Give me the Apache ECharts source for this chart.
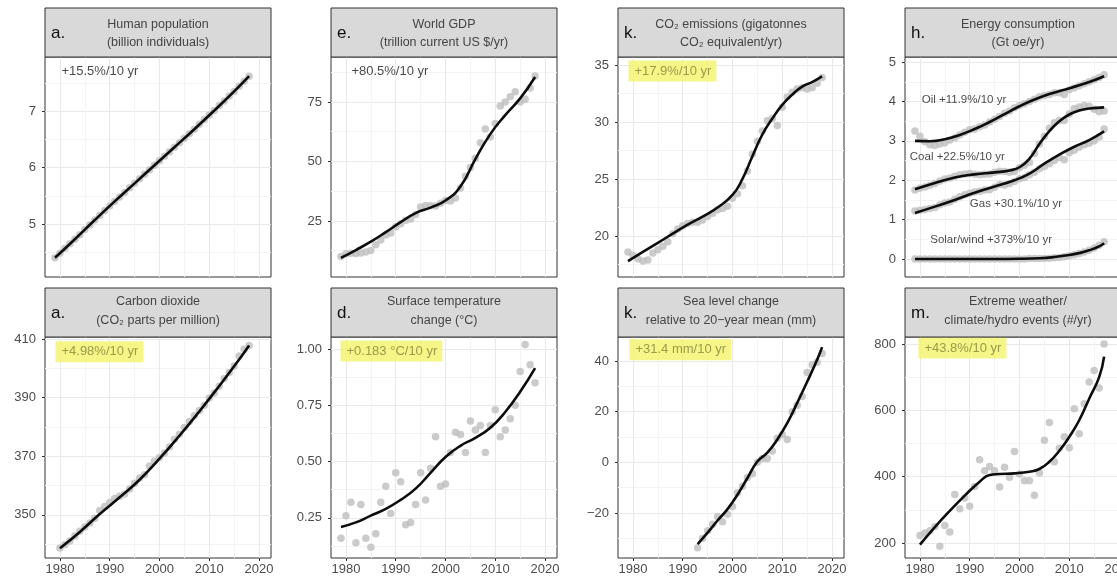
<!DOCTYPE html>
<html>
<head>
<meta charset="utf-8">
<script src="https://cdn.jsdelivr.net/npm/echarts@6/dist/echarts.min.js"></script>
<style>
  html, body { margin: 0; padding: 0; background: #fff; }
  #chart { width: 1117px; height: 580px; }
</style>
</head>
<body>
<div id="chart"></div>
<script>
// ---------- data ----------
const YEARS = [1979, 1980, 1981, 1982, 1983, 1984, 1985, 1986, 1987, 1988,
               1989, 1990, 1991, 1992, 1993, 1994, 1995, 1996, 1997, 1998,
               1999, 2000, 2001, 2002, 2003, 2004, 2005, 2006, 2007, 2008,
               2009, 2010, 2011, 2012, 2013, 2014, 2015, 2016, 2017, 2018];
const YEARS_1980_2018 = YEARS.slice(1);
const YEARS_1979_2017 = YEARS.slice(0, 39);
const YEARS_1980_2017 = YEARS.slice(1, 39);
const YEARS_1993_2018 = YEARS.slice(14);

const X_TICKS = [1980, 1990, 2000, 2010, 2020];
const X_MINOR = [1985, 1995, 2005, 2015];

// a. human population, billion (1979-2018)
const POPULATION = [4.40, 4.48, 4.57, 4.65, 4.73, 4.81, 4.90, 4.98, 5.07, 5.15,
                    5.24, 5.32, 5.40, 5.48, 5.56, 5.64, 5.72, 5.80, 5.88, 5.96,
                    6.04, 6.12, 6.20, 6.28, 6.36, 6.44, 6.52, 6.60, 6.68, 6.77,
                    6.85, 6.93, 7.01, 7.10, 7.18, 7.27, 7.35, 7.44, 7.53, 7.62];
const POPULATION_FIT = [[1979, 4.40], [1983, 4.73], [1987, 5.07], [1991, 5.40], [1995, 5.72],
                        [1999, 6.04], [2003, 6.36], [2007, 6.68], [2011, 7.01], [2015, 7.35],
                        [2018, 7.62]];
const POP_TICKS = [5, 6, 7];
const POP_MINOR = [4.5, 5.5, 6.5, 7.5];

// e. world GDP, trillion US$ (1979-2018)
const GDP = [10.1, 11.2, 11.5, 11.3, 11.6, 12.0, 12.6, 15.0, 17.0, 19.1,
             20.0, 22.6, 23.8, 25.3, 25.8, 27.7, 30.9, 31.5, 31.4, 31.3,
             32.5, 33.6, 33.4, 34.7, 38.9, 43.8, 47.5, 51.4, 57.9, 63.6,
             60.3, 66.0, 73.3, 75.0, 77.2, 79.3, 75.0, 76.1, 80.9, 85.9];
const GDP_FIT = [[1979, 9.5], [1982, 12.8], [1985, 16.3], [1988, 20.3], [1991, 24.5],
                 [1994, 28.3], [1997, 30.6], [2000, 33.6], [2003, 39.5], [2006, 51.0],
                 [2009, 61.5], [2012, 69.5], [2015, 76.5], [2018, 85.5]];
const GDP_TICKS = [25, 50, 75];
const GDP_MINOR = [12.5, 37.5, 62.5, 87.5];

// k. CO2 emissions, Gt CO2-eq (1979-2018)
const EMISSIONS = [18.6, 18.3, 18.0, 17.8, 17.9, 18.5, 18.8, 19.1, 19.5, 20.2,
                   20.6, 20.9, 21.1, 21.2, 21.2, 21.4, 21.7, 22.0, 22.3, 22.4,
                   22.6, 23.3, 23.7, 24.4, 25.7, 27.2, 28.3, 29.2, 30.1, 30.3,
                   29.7, 31.3, 32.2, 32.6, 32.9, 33.0, 32.9, 33.0, 33.4, 33.9];
const EMISSIONS_FIT = [[1979, 17.8], [1982, 18.6], [1985, 19.4], [1988, 20.2], [1991, 21.0],
                       [1994, 21.7], [1997, 22.5], [2000, 23.6], [2002, 25.0], [2004, 27.0],
                       [2006, 28.9], [2008, 30.3], [2010, 31.5], [2012, 32.4], [2014, 33.1],
                       [2016, 33.5], [2018, 34.0]];
const EMISSIONS_TICKS = [20, 25, 30, 35];
const EMISSIONS_MINOR = [17.5, 22.5, 27.5, 32.5];

// h. energy consumption, Gt oe (1979-2017)
const OIL = [3.25, 3.12, 2.98, 2.90, 2.88, 2.92, 2.95, 3.02, 3.08, 3.15,
             3.22, 3.28, 3.30, 3.36, 3.40, 3.48, 3.55, 3.62, 3.70, 3.76,
             3.84, 3.90, 3.94, 4.00, 4.06, 4.12, 4.15, 4.18, 4.22, 4.22,
             4.18, 4.30, 4.35, 4.40, 4.45, 4.50, 4.55, 4.61, 4.68];
const OIL_FIT = [[1979, 3.00], [1982, 2.99], [1985, 3.04], [1988, 3.15], [1991, 3.30],
                 [1994, 3.48], [1997, 3.68], [2000, 3.88], [2003, 4.05], [2006, 4.19],
                 [2009, 4.30], [2012, 4.41], [2015, 4.54], [2017, 4.64]];
const COAL = [1.75, 1.80, 1.83, 1.87, 1.92, 1.98, 2.03, 2.06, 2.10, 2.14,
              2.16, 2.17, 2.15, 2.14, 2.15, 2.16, 2.20, 2.23, 2.22, 2.20,
              2.22, 2.32, 2.38, 2.45, 2.68, 2.92, 3.12, 3.32, 3.46, 3.52,
              3.52, 3.68, 3.82, 3.86, 3.90, 3.88, 3.80, 3.74, 3.76];
const COAL_FIT = [[1979, 1.77], [1983, 1.93], [1987, 2.07], [1991, 2.15], [1995, 2.20],
                  [1998, 2.25], [2000, 2.33], [2002, 2.55], [2004, 2.92], [2006, 3.25],
                  [2008, 3.50], [2010, 3.67], [2012, 3.77], [2014, 3.82], [2017, 3.85]];
const GAS = [1.22, 1.24, 1.26, 1.28, 1.31, 1.38, 1.42, 1.45, 1.52, 1.58,
             1.63, 1.67, 1.70, 1.72, 1.75, 1.76, 1.82, 1.89, 1.88, 1.92,
             1.97, 2.04, 2.07, 2.14, 2.20, 2.29, 2.35, 2.42, 2.50, 2.58,
             2.52, 2.70, 2.76, 2.84, 2.90, 2.94, 3.00, 3.10, 3.30];
const GAS_FIT = [[1979, 1.17], [1983, 1.33], [1987, 1.50], [1991, 1.68], [1995, 1.84],
                 [1999, 2.00], [2002, 2.17], [2005, 2.42], [2008, 2.65], [2011, 2.85],
                 [2014, 3.02], [2017, 3.24]];
const SOLAR_WIND = [0, 0, 0, 0, 0, 0, 0, 0, 0, 0,
                    0, 0, 0, 0, 0, 0, 0, 0, 0, 0,
                    0, 0, 0, 0.01, 0.01, 0.01, 0.01, 0.02, 0.03, 0.04,
                    0.06, 0.08, 0.11, 0.14, 0.18, 0.22, 0.28, 0.35, 0.44];
const SOLAR_WIND_FIT = [[1979, 0], [1985, 0], [1990, 0], [1995, 0], [2000, 0.005],
                        [2004, 0.02], [2007, 0.05], [2010, 0.10], [2012, 0.15],
                        [2014, 0.22], [2016, 0.32], [2017, 0.40]];
const ENERGY_TICKS = [0, 1, 2, 3, 4, 5];
const ENERGY_MINOR = [0.5, 1.5, 2.5, 3.5, 4.5];

// a. atmospheric CO2, ppm (1980-2018)
const CO2_PPM = [338.7, 339.9, 341.1, 342.8, 344.4, 345.9, 347.2, 348.9, 351.5, 352.9,
                 354.2, 355.6, 356.4, 357.1, 358.8, 360.8, 362.6, 363.7, 366.7, 368.4,
                 369.6, 371.1, 373.2, 375.8, 377.5, 379.8, 381.9, 383.8, 385.6, 387.4,
                 389.9, 391.6, 393.9, 396.5, 398.6, 400.8, 404.2, 406.5, 407.8];
const CO2_FIT = [[1980, 338.6], [1984, 344.2], [1988, 350.3], [1992, 356.0], [1996, 362.0],
                 [2000, 369.2], [2004, 377.0], [2008, 385.3], [2012, 394.0], [2016, 403.0],
                 [2018, 407.8]];
const CO2_TICKS = [350, 370, 390, 410];
const CO2_MINOR = [340, 360, 380, 400];

// d. surface temperature change, deg C (1979-2018)
const TEMPERATURE = [0.16, 0.26, 0.32, 0.14, 0.31, 0.16, 0.12, 0.18, 0.32, 0.39,
                     0.27, 0.45, 0.41, 0.22, 0.23, 0.31, 0.45, 0.33, 0.47, 0.61,
                     0.39, 0.40, 0.54, 0.63, 0.62, 0.54, 0.68, 0.64, 0.66, 0.54,
                     0.66, 0.73, 0.61, 0.64, 0.69, 0.75, 0.90, 1.02, 0.93, 0.85];
const TEMPERATURE_FIT = [[1979, 0.21], [1982, 0.23], [1985, 0.26], [1988, 0.29], [1991, 0.33],
                         [1994, 0.38], [1997, 0.45], [2000, 0.52], [2003, 0.57], [2006, 0.605],
                         [2009, 0.65], [2012, 0.72], [2015, 0.81], [2018, 0.915]];
const TEMPERATURE_TICKS = [0.25, 0.5, 0.75, 1.0];
const TEMPERATURE_MINOR = [0.125, 0.375, 0.625, 0.875];

// k. sea level change, mm (1993-2018)
const SEA_LEVEL = [-33.8, -30.0, -27.0, -24.5, -21.5, -23.5, -20.5, -17.5, -12.0, -9.5,
                   -6.0, -4.5, 0.0, 1.5, 1.5, 4.5, 9.5, 11.0, 9.0, 20.0,
                   22.5, 26.0, 35.5, 38.5, 39.5, 43.0];
const SEA_LEVEL_FIT = [[1993, -32.3], [1995, -27.8], [1997, -23.0], [1999, -18.5], [2001, -12.8],
                       [2003, -6.2], [2005, 0.3], [2007, 3.8], [2009, 9.0], [2011, 15.5],
                       [2013, 23.5], [2015, 31.8], [2017, 40.5], [2018, 45.5]];
const SEA_LEVEL_TICKS = [-20, 0, 20, 40];
const SEA_LEVEL_MINOR = [-30, -10, 10, 30];

// m. extreme weather / climate / hydro events per year (1980-2017)
const EXTREME_EVENTS = [223, 230, 237, 250, 190, 253, 233, 346, 303, 336,
                        311, 370, 451, 418, 431, 418, 369, 428, 398, 476,
                        408, 388, 388, 344, 411, 510, 563, 445, 486, 520,
                        487, 605, 529, 620, 685, 720, 667, 800];
const EXTREME_FIT = [[1980, 195], [1983, 248], [1986, 297], [1989, 343], [1992, 385],
                     [1994, 405], [1996, 408], [1999, 410], [2002, 415], [2004, 423],
                     [2006, 445], [2008, 478], [2010, 520], [2012, 570], [2014, 635],
                     [2016, 700], [2017, 762]];
const EXTREME_TICKS = [200, 400, 600, 800];
const EXTREME_MINOR = [300, 500, 700];

// ---------- layout & style ----------
const FONT = '"Liberation Sans", Arial, Helvetica, sans-serif';
const COL_LEFT = [45, 331, 618, 905];
const PANEL_W = 226;
const ROWS = [
  { strip: 8,   top: 57,  height: 220, line1: 24.5, line2: 43,  letterY: 33 },
  { strip: 288, top: 337, height: 221, line1: 302,  line2: 321, letterY: 313 }
];
const STRIP_H = 49;
const X_MIN = 1977, X_MAX = 2022.4;
const MAJOR_GRID = '#e9e9e9';
const MINOR_GRID = '#f4f4f4';
const POINT = '#bebebe';
const FIT = '#0d0d0d';
const HIGHLIGHT = '#f3f36a';
const HIGHLIGHT_TEXT = '#85853a';
const AXIS_TEXT = '#4d4d4d';

function pairs(xs, ys) { return ys.map((v, i) => [xs[i], v]); }

const panels = [
  { col: 0, row: 0, letter: 'a.', title: ['Human population', '(billion individuals)'],
    y: [4.06, 7.96], ticks: POP_TICKS, minor: POP_MINOR,
    layers: [{ points: pairs(YEARS, POPULATION), fit: POPULATION_FIT }],
    notes: [{ x: 1980.2, y: 7.71, text: '+15.5%/10 yr' }] },
  { col: 1, row: 0, letter: 'e.', title: ['World GDP', '(trillion current US $/yr)'],
    y: [1.47, 93.9], ticks: GDP_TICKS, minor: GDP_MINOR,
    layers: [{ points: pairs(YEARS, GDP), fit: GDP_FIT }],
    notes: [{ x: 1981.0, y: 88.0, text: '+80.5%/10 yr' }] },
  { col: 2, row: 0, letter: 'k.', title: ['CO\u2082 emissions (gigatonnes', 'CO\u2082 equivalent/yr)'],
    y: [16.4, 35.7], ticks: EMISSIONS_TICKS, minor: EMISSIONS_MINOR,
    layers: [{ points: pairs(YEARS, EMISSIONS), fit: EMISSIONS_FIT }],
    notes: [{ x: 1979.0, y: 34.47, text: '+17.9%/10 yr', mark: true }] },
  { col: 3, row: 0, letter: 'h.', title: ['Energy consumption', '(Gt oe/yr)'],
    y: [-0.457, 5.13], ticks: ENERGY_TICKS, minor: ENERGY_MINOR,
    layers: [
      { points: pairs(YEARS_1979_2017, OIL), fit: OIL_FIT },
      { points: pairs(YEARS_1979_2017, COAL), fit: COAL_FIT },
      { points: pairs(YEARS_1979_2017, GAS), fit: GAS_FIT },
      { points: pairs(YEARS_1979_2017, SOLAR_WIND), fit: SOLAR_WIND_FIT }
    ],
    notes: [
      { x: 1988.85, y: 4.04, text: 'Oil +11.9%/10 yr', center: true, size: 11.5 },
      { x: 1987.5, y: 2.60, text: 'Coal +22.5%/10 yr', center: true, size: 11.5 },
      { x: 1999.3, y: 1.41, text: 'Gas +30.1%/10 yr', center: true, size: 11.5 },
      { x: 1994.3, y: 0.48, text: 'Solar/wind +373%/10 yr', center: true, size: 11.5 }
    ] },
  { col: 0, row: 1, letter: 'a.', title: ['Carbon dioxide', '(CO\u2082 parts per million)'],
    y: [335.3, 410.7], ticks: CO2_TICKS, minor: CO2_MINOR,
    layers: [{ points: pairs(YEARS_1980_2018, CO2_PPM), fit: CO2_FIT }],
    notes: [{ x: 1979.0, y: 405.7, text: '+4.98%/10 yr', mark: true }] },
  { col: 1, row: 1, letter: 'd.', title: ['Surface temperature', 'change (\u00B0C)'],
    y: [0.072, 1.053], ticks: TEMPERATURE_TICKS, minor: TEMPERATURE_MINOR,
    format: v => v.toFixed(2),
    layers: [{ points: pairs(YEARS, TEMPERATURE), fit: TEMPERATURE_FIT }],
    notes: [{ x: 1978.8, y: 0.991, text: '+0.183 \u00B0C/10 yr', mark: true }] },
  { col: 2, row: 1, letter: 'k.', title: ['Sea level change', 'relative to 20\u2212year mean (mm)'],
    y: [-37.8, 49.5], ticks: SEA_LEVEL_TICKS, minor: SEA_LEVEL_MINOR,
    format: v => (v < 0 ? '\u2212' + Math.abs(v) : String(v)),
    layers: [{ points: pairs(YEARS_1993_2018, SEA_LEVEL), fit: SEA_LEVEL_FIT }],
    notes: [{ x: 1979.2, y: 44.5, text: '+31.4 mm/10 yr', mark: true }] },
  { col: 3, row: 1, letter: 'm.', title: ['Extreme weather/', 'climate/hydro events (#/yr)'],
    y: [154.8, 821], ticks: EXTREME_TICKS, minor: EXTREME_MINOR,
    layers: [{ points: pairs(YEARS_1980_2017, EXTREME_EVENTS), fit: EXTREME_FIT }],
    notes: [{ x: 1979.6, y: 788, text: '+43.8%/10 yr', mark: true }] }
];

// ---------- build option ----------
const grid = [], xAxis = [], yAxis = [], series = [], graphic = [];

panels.forEach((p, i) => {
  const left = COL_LEFT[p.col];
  const row = ROWS[p.row];
  const bottomRow = p.row === 1;
  const xi = 2 * i + 1;

  grid.push({
    left: left, top: row.top, width: PANEL_W, height: row.height,
    show: true, backgroundColor: '#fff', borderColor: '#333', borderWidth: 1,
    containLabel: false, outerBoundsMode: 'none'
  });

  // minor grid lines
  xAxis.push({
    type: 'value', gridIndex: i, position: 'top', min: X_MIN, max: X_MAX,
    axisLine: { show: false, onZero: false }, axisLabel: { show: false },
    axisTick: { show: false, customValues: X_MINOR },
    splitLine: { show: true, lineStyle: { color: MINOR_GRID, width: 1 } }
  });
  yAxis.push({
    type: 'value', gridIndex: i, position: 'right', min: p.y[0], max: p.y[1],
    axisLine: { show: false, onZero: false }, axisLabel: { show: false },
    axisTick: { show: false, customValues: p.minor },
    splitLine: { show: true, lineStyle: { color: MINOR_GRID, width: 1 } }
  });

  // major axes
  xAxis.push({
    type: 'value', gridIndex: i, position: 'bottom', min: X_MIN, max: X_MAX,
    axisLine: { show: false, onZero: false },
    axisTick: { show: bottomRow, length: 3, customValues: X_TICKS, lineStyle: { color: '#333' } },
    axisLabel: { show: bottomRow, customValues: X_TICKS, margin: 5, fontFamily: FONT,
                 fontSize: 13, color: AXIS_TEXT, formatter: v => String(v) },
    splitLine: { show: true, lineStyle: { color: MAJOR_GRID, width: 1 } }
  });
  yAxis.push({
    type: 'value', gridIndex: i, position: 'left', min: p.y[0], max: p.y[1],
    axisLine: { show: false, onZero: false },
    axisTick: { show: true, length: 3, customValues: p.ticks, lineStyle: { color: '#333' } },
    axisLabel: { show: true, customValues: p.ticks, margin: 9, fontFamily: FONT,
                 fontSize: 13, color: AXIS_TEXT, formatter: p.format || (v => String(v)) },
    splitLine: { show: true, lineStyle: { color: MAJOR_GRID, width: 1 } }
  });

  p.layers.forEach(layer => {
    series.push({
      type: 'scatter', xAxisIndex: xi, yAxisIndex: xi, data: layer.points,
      symbolSize: 7.5, itemStyle: { color: POINT }, silent: true, z: 2
    });
  });
  p.layers.forEach(layer => {
    series.push({
      type: 'line', xAxisIndex: xi, yAxisIndex: xi, data: layer.fit,
      smooth: 0.5, showSymbol: false, symbol: 'none',
      lineStyle: { color: FIT, width: 2.6 }, silent: true, z: 3
    });
  });

  p.notes.forEach(n => {
    series.push({
      type: 'scatter', xAxisIndex: xi, yAxisIndex: xi, data: [[n.x, n.y]],
      symbolSize: 1, itemStyle: { color: 'rgba(0,0,0,0)' }, silent: true, z: 5,
      label: {
        show: true, position: n.center ? 'inside' : 'right', distance: 0,
        formatter: n.text, fontFamily: FONT, fontSize: n.size || 13,
        color: n.mark ? HIGHLIGHT_TEXT : '#1a1a1a',
        backgroundColor: n.mark ? HIGHLIGHT : 'transparent',
        padding: n.mark ? [3, 5, 5, 6] : 0
      }
    });
  });

  // facet strip
  graphic.push({
    type: 'rect', z: 10, silent: true,
    shape: { x: left, y: row.strip, width: PANEL_W, height: STRIP_H },
    style: { fill: '#d9d9d9', stroke: '#333', lineWidth: 1 }
  });
  graphic.push({
    type: 'text', z: 11, silent: true, x: left + PANEL_W / 2, y: row.line1,
    style: { text: p.title[0], font: '12.5px ' + FONT, fill: '#444', align: 'center', verticalAlign: 'middle' }
  });
  graphic.push({
    type: 'text', z: 11, silent: true, x: left + PANEL_W / 2, y: row.line2,
    style: { text: p.title[1], font: '12.5px ' + FONT, fill: '#444', align: 'center', verticalAlign: 'middle' }
  });
  graphic.push({
    type: 'text', z: 11, silent: true, x: left + 6, y: row.letterY,
    style: { text: p.letter, font: '17px ' + FONT, fill: '#111', align: 'left', verticalAlign: 'middle' }
  });
});

const chart = echarts.init(document.getElementById('chart'), null, { renderer: 'canvas' });
chart.setOption({
  animation: false,
  backgroundColor: '#fff',
  textStyle: { fontFamily: FONT },
  grid: grid,
  xAxis: xAxis,
  yAxis: yAxis,
  series: series,
  graphic: graphic
});
</script>
</body>
</html>
